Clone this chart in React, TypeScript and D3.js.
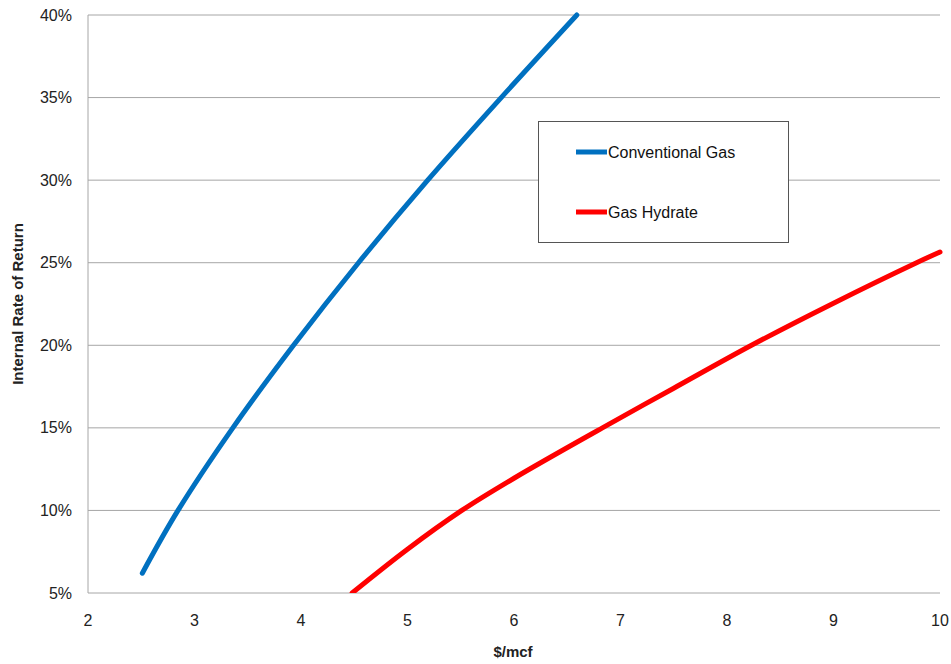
import React from "react";
import * as d3 from "d3";

const xTicks = [2, 3, 4, 5, 6, 7, 8, 9, 10];
const yTicks = [0.05, 0.1, 0.15, 0.2, 0.25, 0.3, 0.35, 0.4];

const convPrice = [2.51, 2.845, 3.36, 3.93, 4.54, 5.19, 5.88, 6.59];
const convIRR = [0.062, 0.10, 0.15, 0.20, 0.25, 0.30, 0.35, 0.40];

const hydPrice = [4.48, 5.0, 5.51, 6.0, 6.83, 7.5, 8.23, 9.0, 9.78, 10.0];
const hydIRR = [0.05, 0.0765, 0.10, 0.1195, 0.15, 0.174, 0.20, 0.2255, 0.25, 0.2565];

const seriesNames = ["Conventional Gas", "Gas Hydrate"];
const seriesColors = ["#0070C0", "#FF0000"];

export default function App() {
  const W = 951, H = 664;
  const left = 88, right = 940, top = 15, bottom = 593;
  const x = d3.scaleLinear().domain([2, 10]).range([left, right]);
  const y = d3.scaleLinear().domain([0.05, 0.4]).range([bottom, top]);
  const line = d3.line<[number, number]>().x(d => x(d[0])).y(d => y(d[1])).curve(d3.curveCatmullRom.alpha(0.5));
  const conv: [number, number][] = convPrice.map((p, i) => [p, convIRR[i]]);
  const hyd: [number, number][] = hydPrice.map((p, i) => [p, hydIRR[i]]);
  const font = "'Liberation Sans', Arial, sans-serif";
  return (
    <svg width={W} height={H} style={{ position: "absolute", left: 0, top: 0, background: "#fff" }} fontFamily={font}>
      <defs>
        <clipPath id="plot"><rect x={left} y={top - 3} width={right - left + 12} height={bottom - top + 3} /></clipPath>
      </defs>
      {yTicks.map(t => (
        <g key={t}>
          <line x1={left} x2={right} y1={y(t)} y2={y(t)} stroke="#a6a6a6" strokeWidth={1} />
          <text x={72} y={y(t)} dy="0.35em" textAnchor="end" fontSize={16} fill="#222">{Math.round(t * 100) + "%"}</text>
        </g>
      ))}
      <line x1={left} x2={left} y1={top} y2={bottom} stroke="#a6a6a6" strokeWidth={1} />
      {xTicks.map(t => (
        <text key={t} x={x(t)} y={626} textAnchor="middle" fontSize={16} fill="#222">{t}</text>
      ))}
      <g clipPath="url(#plot)">
        <path d={line(conv) || ""} fill="none" stroke={seriesColors[0]} strokeWidth={5} strokeLinecap="round" />
        <path d={line(hyd) || ""} fill="none" stroke={seriesColors[1]} strokeWidth={5} strokeLinecap="round" />
      </g>
      <text x={513} y={657} textAnchor="middle" fontSize={15} fontWeight="bold" fill="#222">$/mcf</text>
      <text transform={`translate(23,${(top + bottom) / 2}) rotate(-90)`} textAnchor="middle" fontSize={15} fontWeight="bold" fill="#222">Internal Rate of Return</text>
      <rect x={538.5} y={121.5} width={250} height={121} fill="#fff" stroke="#555" strokeWidth={1} />
      {seriesNames.map((n, i) => (
        <g key={n}>
          <line x1={576} x2={607} y1={152 + i * 60} y2={152 + i * 60} stroke={seriesColors[i]} strokeWidth={5} />
          <text x={608} y={152 + i * 60} dy="0.35em" fontSize={16} fill="#111">{n}</text>
        </g>
      ))}
    </svg>
  );
}
